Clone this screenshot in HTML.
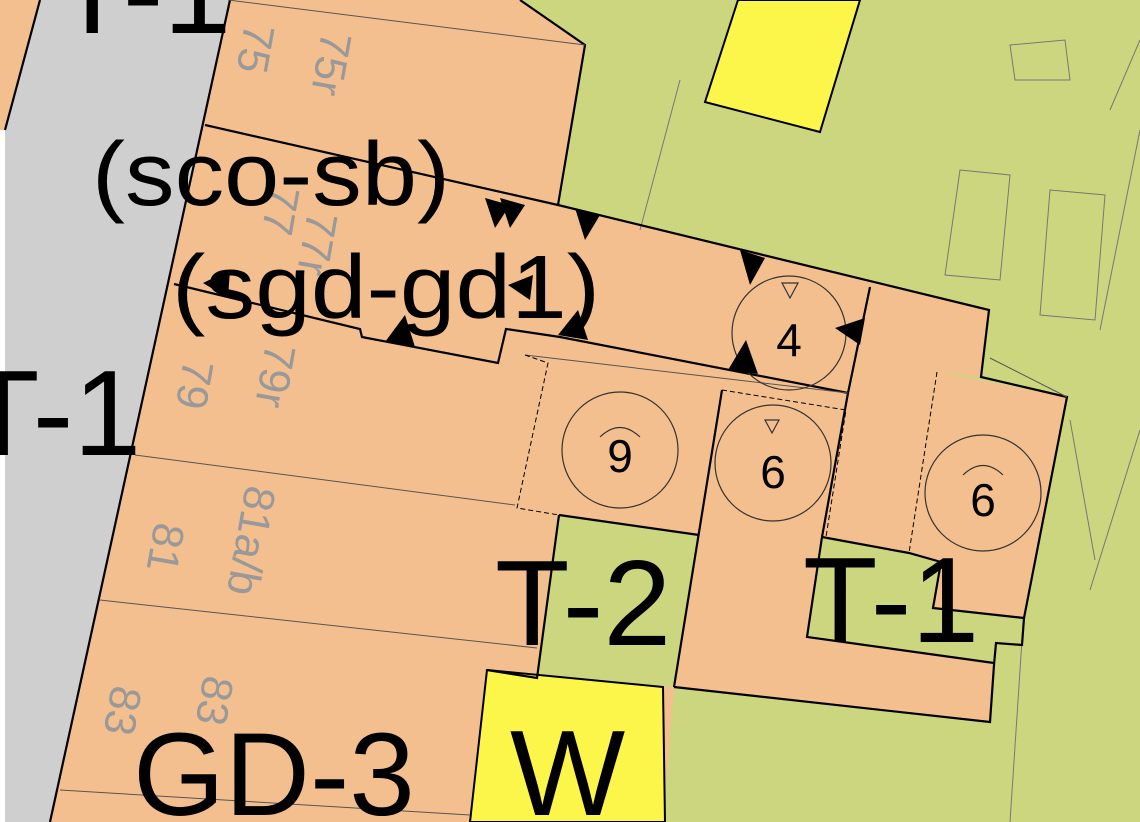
<!DOCTYPE html>
<html><head><meta charset="utf-8"><style>
html,body{margin:0;padding:0;background:#fff}
svg{display:block}
text{font-family:"Liberation Sans",sans-serif}
</style></head><body>
<svg width="1140" height="822" viewBox="0 0 1140 822" xmlns="http://www.w3.org/2000/svg">
<rect width="1140" height="822" fill="#fff"/>
<polygon points="470,0 1140,0 1140,822 470,822" fill="#ccd67f"/>
<polygon points="0,0 40,0 5,130 0,130" fill="#f4bf8f"/>
<polygon points="228,0 520,0 585,45 558,205 989,310 981,377 937,372 1067,397 1024,618 1022,645 996,643 994,665 990,722 674,687 663,822 50,822" fill="#f4bf8f"/>
<polygon points="40,0 230,0 50,822 5,822 5,130" fill="#cfcfcf"/>
<polygon points="0,130 5,130 5,822 0,822" fill="#fff"/>
<polygon points="559,515 699,535 674,687 537,678" fill="#ccd67f"/>
<polygon points="822,537 909,553 941,562 933,608 1024,618 1022,645 996,643 994,663 807,637" fill="#ccd67f"/>
<polygon points="738,0 860,0 820,132 705,102" fill="#fcf54a" stroke="#000" stroke-width="2"/>
<polygon points="487,670 663,687 665,822 470,822" fill="#fcf54a" stroke="#000" stroke-width="2"/>
<g fill="none" stroke="#777" stroke-width="1">
<polygon points="1010,45 1065,40 1070,80 1015,80"/>
<polygon points="960,170 1010,175 1000,280 945,275"/>
<polygon points="1050,190 1105,195 1095,320 1040,315"/>
<line x1="1140" y1="40" x2="1110" y2="110"/>
<line x1="1140" y1="130" x2="1100" y2="330"/>
<line x1="680" y1="80" x2="640" y2="230"/>
<line x1="1070" y1="420" x2="1095" y2="560"/>
<line x1="1140" y1="430" x2="1090" y2="590"/>
<line x1="1022" y1="640" x2="1010" y2="822"/>
</g>
<g fill="none" stroke="#000" stroke-width="2.2">
<line x1="230" y1="0" x2="50" y2="822"/>
<line x1="40" y1="0" x2="5" y2="130"/>
<polyline points="520,0 585,45 558,205"/>
<polyline points="205,125 558,205 989,310 981,377 1067,397 1024,618 1022,645 996,643 994,665 990,722 674,687"/>
<polyline points="174,284 360,329 362,337 498,363 506,329 560,337 848,393 870,287"/>
<line x1="722" y1="390" x2="674" y2="687"/>
<polyline points="559,515 699,535"/>
<polyline points="559,515 537,678 487,670"/>
<polyline points="822,537 909,553 941,562 933,608 1024,618"/>
<polyline points="822,537 807,637 994,663"/>
<line x1="848" y1="393" x2="822" y2="537"/>
</g>
<g fill="none" stroke="#555" stroke-width="1">
<line x1="135" y1="455" x2="515" y2="505"/>
<line x1="100" y1="600" x2="537" y2="648"/>
<line x1="60" y1="790" x2="470" y2="815"/>
<line x1="228" y1="0" x2="585" y2="45"/>
<line x1="525" y1="355" x2="848" y2="393"/>
<line x1="990" y1="358" x2="1067" y2="397"/>
</g>
<g fill="none" stroke="#000" stroke-width="1" stroke-dasharray="5,3">
<polyline points="525,355 548,363 517,508 559,515"/>
<polyline points="722,390 846,410 826,537"/>
<polyline points="937,372 909,553"/>
</g>
<g fill="none" stroke="#333" stroke-width="1.2">
<circle cx="789" cy="333" r="57"/>
<circle cx="620" cy="450" r="58"/>
<circle cx="773" cy="463" r="58"/>
<circle cx="983" cy="493" r="58"/>
<polygon points="782,283 798,283 790,298"/>
<polygon points="765,420 779,420 772,433"/>
<path d="M600,437 Q620,418 640,437"/>
<path d="M963,475 Q983,456 1003,475"/>
</g>
<g font-size="46" text-anchor="middle">
<text x="789" y="356">4</text>
<text x="620" y="472">9</text>
<text x="773" y="488">6</text>
<text x="983" y="516">6</text>
</g>
<g fill="#000">
<polygon points="485,198 510,205 495,228"/>
<polygon points="500,198 525,205 510,228"/>
<polygon points="575,208 600,215 585,240"/>
<polygon points="740,250 765,258 750,285"/>
<polygon points="835,328 865,318 860,345"/>
<polygon points="728,370 758,374 746,340"/>
<polygon points="385,342 415,347 405,315"/>
<polygon points="558,335 588,340 578,310"/>
<polygon points="203,283 230,270 228,298"/>
<polygon points="508,285 533,275 530,300"/>
</g>
<g fill="#999" font-size="44">
<text transform="translate(245,22) rotate(100)">75</text>
<text transform="translate(322,30) rotate(100)">75r</text>
<text transform="translate(270,184) rotate(100)">77</text>
<text transform="translate(308,210) rotate(100)">77r</text>
<text transform="translate(184,358) rotate(100)">79</text>
<text transform="translate(266,342) rotate(100)">79r</text>
<text transform="translate(155,521) rotate(100)">81</text>
<text transform="translate(246,484) rotate(100)">81a/b</text>
<text transform="translate(112,684) rotate(100)">83</text>
<text transform="translate(204,674) rotate(100)">83</text>
</g>
<g fill="#000">
<text x="92" y="205" font-size="90" textLength="358" lengthAdjust="spacingAndGlyphs">(sco-sb)</text>
<text x="172" y="318" font-size="90" textLength="428" lengthAdjust="spacingAndGlyphs">(sgd-gd1)</text>
<text x="-35" y="455" font-size="122">T-1</text>
<text x="55" y="33" font-size="122">T-1</text>
<text x="495" y="645" font-size="122">T-2</text>
<text x="803" y="642" font-size="122">T-1</text>
<text x="133" y="815" font-size="118">GD-3</text>
<text x="510" y="815" font-size="122">W</text>
</g>
</svg>
</body></html>
